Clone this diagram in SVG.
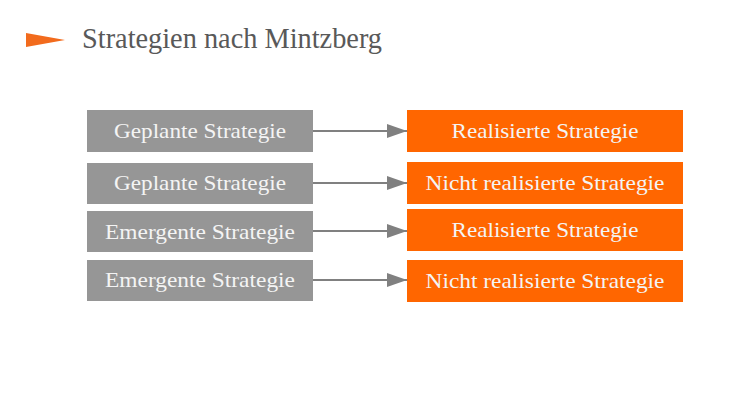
<svg xmlns="http://www.w3.org/2000/svg" width="750" height="401" viewBox="0 0 750 401">
<defs>
<style>
.g{fill:#969696}
.o{fill:#ff6600}
.t{font-family:"Liberation Serif","DejaVu Serif",serif;font-size:21px;fill:#f4f4f4;text-anchor:middle}
.c{stroke:#808080;stroke-width:2;fill:none}
</style>
<marker id="a" viewBox="0 0 20 14" markerWidth="20" markerHeight="14" refX="20" refY="7" orient="auto" markerUnits="userSpaceOnUse">
<path d="M0,0 L20,7 L0,14 Z" fill="#808080"/>
</marker>
</defs>
<rect width="750" height="401" fill="#ffffff"/>
<g id="title">
<path d="M26,33 L65,40 L26,47 Z" fill="#f26b1d"/>
<text x="82" y="48" font-family="Liberation Serif, DejaVu Serif, serif" font-size="28.5" fill="#595959" textLength="300" lengthAdjust="spacingAndGlyphs">Strategien nach Mintzberg</text>
</g>
<g id="connectors">
<line class="c" x1="313" y1="131" x2="407" y2="131" marker-end="url(#a)"/>
<line class="c" x1="313" y1="183" x2="407" y2="183" marker-end="url(#a)"/>
<line class="c" x1="313" y1="231" x2="407" y2="231" marker-end="url(#a)"/>
<line class="c" x1="313" y1="280" x2="407" y2="280" marker-end="url(#a)"/>
</g>
<g id="p1"><rect class="g" x="87" y="110" width="226" height="42"/><text class="t" x="200" y="138" textLength="172" lengthAdjust="spacingAndGlyphs">Geplante Strategie</text></g>
<g id="p2"><rect class="g" x="87" y="163" width="226" height="41"/><text class="t" x="200" y="190" textLength="172" lengthAdjust="spacingAndGlyphs">Geplante Strategie</text></g>
<g id="e1"><rect class="g" x="87" y="211" width="226" height="41"/><text class="t" x="200" y="239" textLength="190" lengthAdjust="spacingAndGlyphs">Emergente Strategie</text></g>
<g id="e2"><rect class="g" x="87" y="260" width="226" height="41"/><text class="t" x="200" y="287" textLength="190" lengthAdjust="spacingAndGlyphs">Emergente Strategie</text></g>
<g id="r1"><rect class="o" x="407" y="110" width="276" height="42"/><text class="t" x="545" y="138" textLength="187" lengthAdjust="spacingAndGlyphs">Realisierte Strategie</text></g>
<g id="n1"><rect class="o" x="407" y="162" width="276" height="42"/><text class="t" x="545" y="190" textLength="239" lengthAdjust="spacingAndGlyphs">Nicht realisierte Strategie</text></g>
<g id="r2"><rect class="o" x="407" y="209" width="276" height="42"/><text class="t" x="545" y="237" textLength="187" lengthAdjust="spacingAndGlyphs">Realisierte Strategie</text></g>
<g id="n2"><rect class="o" x="407" y="260" width="276" height="42"/><text class="t" x="545" y="288" textLength="239" lengthAdjust="spacingAndGlyphs">Nicht realisierte Strategie</text></g>
</svg>
